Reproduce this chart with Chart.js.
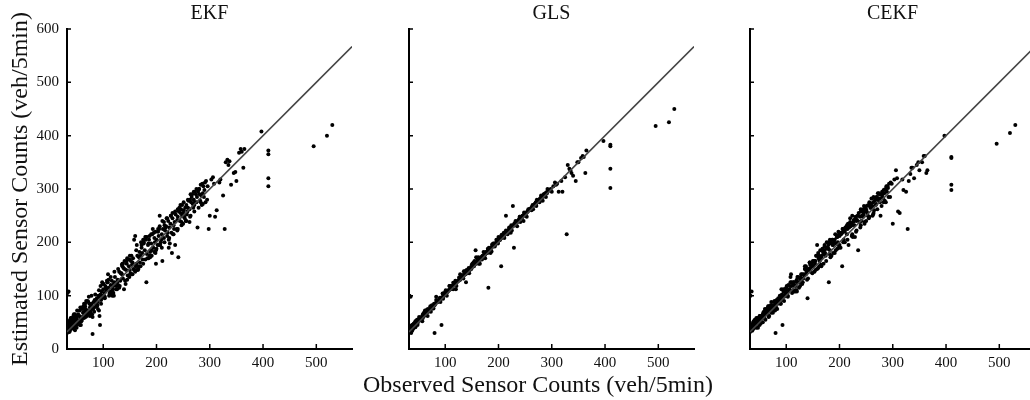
<!DOCTYPE html>
<html>
<head>
<meta charset="utf-8">
<script src="https://cdn.jsdelivr.net/npm/chart.js@4.4.1/dist/chart.umd.min.js"></script>
<style>
    body { margin: 0; width: 1030px; height: 400px; overflow: hidden; background: #fff; position: relative; }
    canvas { position: absolute; top: 0; }
    #xTitle { position: absolute; left: 0; width: 1076px; top: 372px; text-align: center;
              font: 24px "Liberation Serif", serif; line-height: 24px; color: #111; }
</style>
</head>
<body>
<canvas id="ekfChart" width="360" height="400" style="left:0px"></canvas>
<canvas id="glsChart" width="342" height="400" style="left:360px"></canvas>
<canvas id="cekfChart" width="343" height="400" style="left:700px"></canvas>
<div id="xTitle">Observed Sensor Counts (veh/5min)</div>

<script>
// observed counts are shared by the three panels
const observed = [
    32, 33, 34, 35, 36, 37, 38, 39, 40, 41,
    42, 43, 44, 45, 46, 47, 48, 49, 50, 52,
    53, 55, 56, 58, 60, 61, 63, 65, 66, 68,
    70, 72, 74, 75, 77, 79, 80, 82, 84, 86,
    88, 90, 92, 93, 95, 97, 99, 100, 102, 104,
    106, 108, 110, 112, 114, 116, 118, 120, 122, 125,
    127, 130, 132, 135, 137, 140, 142, 144, 146, 148,
    150, 152, 154, 156, 158, 160, 162, 164, 166, 168,
    170, 172, 174, 176, 178, 180, 182, 184, 186, 188,
    190, 192, 194, 196, 198, 200, 202, 204, 206, 208,
    210, 212, 214, 216, 218, 220, 222, 224, 226, 228,
    230, 232, 234, 236, 238, 240, 242, 244, 246, 248,
    250, 252, 254, 256, 258, 260, 262, 264, 266, 268,
    270, 272, 274, 276, 278, 280, 282, 284, 286, 288,
    290, 293, 296, 300, 303, 306, 310, 313, 318, 325,
    328, 330, 333, 337, 340, 345, 350, 355, 358, 363,
    397, 410, 410, 410, 410, 495, 520, 530, 33, 35,
    36, 38, 40, 44, 48, 52, 57, 62, 67, 73,
    78, 83, 91, 96, 103, 109, 115, 121, 128, 134,
    139, 145, 151, 157, 163, 169, 175, 181, 187, 193,
    199, 205, 211, 217, 223, 229, 235, 241, 247, 253,
    259, 265, 271, 277, 283, 289, 94, 80, 92, 140,
    34, 37, 42, 46, 51, 55, 59, 64, 69, 76,
    85, 98, 105, 113, 119, 126, 133, 138, 143, 149,
    155, 161, 167, 173, 179, 185, 191, 197, 203, 209,
    215, 221, 227, 233, 239, 245, 251, 257, 263, 269,
    275, 281, 287, 298, 308, 320, 335, 348, 360, 365,
    35, 39, 43, 47, 51, 54, 57, 60, 64, 67,
    71, 74, 78, 81, 85, 89, 92, 96, 99, 103,
    107, 111, 114, 117, 121, 124, 128, 131, 136, 141,
    145, 149, 153, 158, 162, 166, 171, 175, 179, 183,
    187, 191, 195, 199, 203, 207, 211, 215, 219, 223,
    227, 231, 235, 239, 243, 247, 251, 255, 259, 263,
    267, 271, 275, 279, 283, 287, 291, 295, 38, 45,
    58, 68, 88, 110, 130, 150, 170, 190, 210, 230,
    250, 270, 285, 120, 165, 185, 205, 225, 245, 262,
    41, 50, 63, 79, 98, 117, 136, 155, 176, 198,
    44, 56, 72, 90, 108, 126, 144, 162, 180, 196,
    214, 232, 248, 264, 280, 47, 66, 83, 101, 119,
    137, 153, 172, 188, 206, 224, 240, 256, 272, 292,
    60, 75, 95, 115, 135, 160, 182, 200, 220, 240
];

const ekfEstimated = [
    30, 45, 38, 42, 35, 48, 40, 52, 44, 50,
    55, 40, 58, 47, 52, 62, 45, 57, 60, 54,
    65, 52, 72, 60, 58, 75, 62, 70, 80, 64,
    72, 68, 85, 78, 82, 75, 28, 88, 92, 84,
    95, 88, 98, 62, 102, 108, 96, 112, 105, 118,
    110, 125, 115, 104, 120, 128, 112, 122, 135, 118,
    130, 145, 128, 140, 132, 150, 122, 160, 138, 155,
    148, 165, 158, 170, 205, 212, 160, 175, 155, 182,
    175, 190, 168, 200, 185, 210, 178, 195, 205, 182,
    198, 215, 190, 208, 220, 205, 195, 212, 250, 200,
    215, 225, 208, 222, 230, 212, 240, 228, 235, 218,
    245, 232, 238, 252, 225, 248, 258, 240, 262, 250,
    255, 248, 265, 270, 258, 278, 262, 290, 285, 272,
    280, 275, 290, 285, 295, 300, 278, 288, 310, 305,
    298, 315, 305, 250, 318, 322, 248, 260, 312, 288,
    225, 350, 355, 352, 308, 330, 315, 368, 375, 340,
    408, 372, 365, 320, 305, 380, 400, 420, 105, 108,
    32, 36, 48, 38, 55, 48, 58, 68, 75, 98,
    85, 78, 100, 92, 98, 140, 108, 125, 120, 142,
    112, 130, 142, 150, 195, 162, 205, 125, 175, 225,
    160, 195, 165, 228, 190, 180, 195, 172, 238, 245,
    265, 275, 270, 228, 275, 285, 45, 60, 72, 165,
    40, 33, 48, 42, 46, 62, 52, 58, 62, 70,
    90, 100, 115, 108, 118, 125, 142, 152, 148, 168,
    162, 155, 172, 180, 168, 198, 185, 200, 220, 205,
    232, 218, 250, 225, 242, 255, 260, 252, 280, 265,
    275, 290, 292, 225, 310, 318, 345, 332, 370, 375,
    52, 58, 45, 65, 72, 50, 78, 55, 85, 60,
    90, 65, 100, 75, 102, 82, 110, 85, 122, 95,
    128, 100, 135, 108, 145, 112, 150, 118, 160, 128,
    170, 135, 175, 148, 185, 150, 200, 160, 210, 170,
    212, 175, 218, 185, 225, 195, 240, 200, 245, 205,
    250, 215, 258, 222, 265, 232, 275, 240, 280, 248,
    290, 258, 300, 265, 308, 272, 312, 280, 55, 65,
    45, 90, 80, 130, 115, 175, 155, 215, 190, 255,
    235, 295, 270, 100, 148, 170, 225, 198, 270, 238,
    58, 40, 80, 65, 125, 100, 155, 140, 198, 180,
    62, 45, 88, 75, 125, 112, 165, 148, 205, 182,
    238, 215, 270, 250, 300, 35, 85, 70, 122, 105,
    160, 140, 195, 172, 230, 208, 262, 240, 295, 275,
    78, 62, 118, 102, 158, 145, 210, 188, 245, 225
];

const glsEstimated = [
    35, 42, 38, 40, 36, 44, 41, 45, 43, 46,
    47, 44, 50, 46, 49, 52, 48, 53, 55, 54,
    57, 55, 60, 58, 62, 63, 65, 68, 70, 70,
    74, 72, 78, 76, 80, 82, 30, 86, 88, 88,
    92, 90, 95, 45, 97, 100, 101, 104, 105, 108,
    110, 118, 112, 113, 118, 122, 120, 124, 126, 128,
    130, 135, 134, 138, 140, 143, 142, 150, 148, 152,
    153, 156, 155, 160, 172, 165, 164, 168, 168, 172,
    172, 176, 176, 180, 180, 185, 184, 188, 190, 192,
    193, 198, 196, 200, 201, 205, 204, 208, 208, 212,
    212, 216, 250, 220, 222, 225, 224, 228, 230, 232,
    234, 236, 237, 240, 242, 244, 246, 247, 250, 252,
    254, 256, 257, 260, 262, 263, 266, 268, 269, 272,
    274, 276, 277, 280, 282, 284, 286, 288, 290, 292,
    294, 296, 298, 295, 305, 312, 310, 295, 315, 322,
    215, 345, 338, 330, 325, 315, 350, 358, 362, 330,
    390, 383, 380, 338, 302, 418, 425, 450, 100, 98,
    30, 34, 38, 41, 45, 56, 52, 72, 62, 70,
    76, 98, 88, 94, 100, 112, 112, 118, 140, 132,
    125, 142, 160, 185, 160, 168, 170, 115, 183, 192,
    198, 155, 208, 215, 218, 190, 230, 238, 240, 248,
    262, 262, 268, 275, 278, 285, 96, 82, 96, 148,
    38, 40, 45, 48, 60, 57, 62, 66, 72, 78,
    90, 104, 108, 118, 122, 130, 138, 140, 146, 155,
    160, 165, 172, 176, 182, 188, 195, 200, 206, 212,
    218, 225, 268, 236, 244, 248, 255, 260, 266, 272,
    278, 285, 289, 300, 308, 295, 335, 350, 360, 372,
    40, 42, 48, 50, 53, 58, 60, 63, 66, 72,
    74, 78, 80, 85, 88, 92, 94, 98, 102, 106,
    110, 113, 118, 120, 124, 128, 130, 134, 140, 144,
    148, 150, 156, 160, 165, 168, 172, 178, 180, 186,
    190, 193, 198, 202, 205, 210, 213, 218, 220, 226,
    230, 233, 238, 240, 245, 250, 252, 258, 262, 265,
    270, 273, 278, 282, 285, 290, 292, 298, 45, 52,
    65, 75, 92, 118, 138, 158, 175, 198, 218, 236,
    255, 275, 290, 112, 160, 180, 212, 222, 250, 260,
    48, 56, 70, 85, 105, 122, 142, 165, 182, 205,
    52, 60, 80, 96, 118, 134, 152, 172, 188, 205,
    222, 240, 256, 270, 288, 55, 74, 92, 110, 128,
    146, 162, 182, 196, 214, 232, 248, 262, 280, 300,
    68, 82, 104, 124, 146, 170, 190, 210, 228, 248
];

const cekfEstimated = [
    32, 40, 36, 44, 38, 46, 42, 50, 40, 48,
    52, 45, 55, 50, 48, 58, 52, 55, 62, 50,
    62, 58, 65, 60, 68, 55, 70, 65, 75, 72,
    78, 68, 82, 76, 88, 80, 30, 92, 85, 90,
    95, 100, 92, 45, 108, 100, 110, 115, 105, 120,
    112, 135, 118, 110, 125, 120, 118, 130, 135, 125,
    135, 140, 132, 150, 140, 95, 148, 162, 145, 160,
    155, 165, 160, 175, 195, 180, 168, 185, 170, 188,
    178, 195, 175, 200, 190, 125, 185, 200, 205, 195,
    200, 215, 198, 210, 220, 212, 190, 218, 225, 205,
    220, 228, 215, 235, 228, 245, 235, 250, 238, 232,
    245, 240, 250, 255, 238, 262, 250, 248, 268, 258,
    262, 255, 270, 275, 265, 282, 268, 285, 278, 270,
    285, 280, 292, 275, 290, 285, 282, 292, 300, 305,
    305, 310, 312, 235, 318, 335, 258, 255, 318, 295,
    225, 315, 328, 340, 320, 345, 335, 350, 362, 330,
    400, 360, 358, 308, 298, 385, 405, 420, 100, 108,
    34, 38, 45, 40, 50, 48, 62, 65, 80, 75,
    82, 88, 112, 98, 100, 140, 118, 125, 130, 138,
    130, 152, 155, 175, 165, 182, 190, 178, 195, 185,
    215, 155, 225, 195, 232, 210, 185, 240, 238, 250,
    265, 260, 280, 250, 275, 295, 98, 84, 95, 150,
    42, 36, 48, 52, 55, 60, 58, 68, 72, 80,
    92, 105, 110, 122, 128, 132, 140, 145, 150, 155,
    165, 170, 175, 180, 188, 198, 205, 200, 215, 222,
    225, 230, 240, 242, 248, 252, 258, 268, 275, 272,
    282, 290, 298, 310, 320, 298, 340, 350, 362, 335,
    45, 52, 50, 58, 62, 50, 68, 65, 75, 60,
    82, 70, 90, 78, 95, 85, 102, 90, 112, 98,
    118, 105, 125, 110, 135, 115, 140, 125, 150, 132,
    158, 142, 165, 150, 175, 155, 185, 165, 195, 172,
    205, 180, 210, 190, 218, 200, 228, 205, 235, 212,
    242, 220, 250, 228, 258, 235, 268, 245, 272, 252,
    282, 262, 290, 268, 298, 275, 302, 285, 50, 55,
    70, 62, 100, 125, 122, 165, 160, 205, 200, 248,
    240, 285, 278, 108, 158, 175, 218, 210, 262, 250,
    55, 45, 75, 72, 112, 108, 150, 148, 188, 195,
    58, 50, 88, 85, 125, 118, 162, 155, 200, 188,
    232, 222, 265, 255, 295, 40, 80, 75, 118, 110,
    155, 145, 192, 180, 225, 215, 258, 248, 292, 285,
    75, 68, 112, 108, 155, 152, 205, 195, 238, 232
];

const xTickValues = [100, 200, 300, 400, 500];
const yTickValues = [0, 100, 200, 300, 400, 500, 600];
const xRange = [32, 567];
const yRange = [0, 600];

const serif = "'Liberation Serif', 'Times New Roman', serif";

// small tick marks pointing into the plot, as in the original figure
const innerTicks = {
    id: 'innerTicks',
    afterDatasetsDraw(chart) {
        const { ctx, chartArea, scales } = chart;
        ctx.save();
        ctx.strokeStyle = '#000';
        ctx.lineWidth = 1.5;
        ctx.beginPath();
        xTickValues.forEach(v => {
            const px = scales.x.getPixelForValue(v);
            ctx.moveTo(px, chartArea.bottom);
            ctx.lineTo(px, chartArea.bottom - 5);
        });
        yTickValues.forEach(v => {
            const py = scales.y.getPixelForValue(v);
            ctx.moveTo(chartArea.left, py);
            ctx.lineTo(chartArea.left + 4, py);
        });
        ctx.stroke();
        ctx.restore();
    }
};

function makePanel(canvasId, title, estimates, yWidth, showYLabels) {
    const points = observed.map((x, i) => ({ x: x, y: estimates[i] }));
    const diagonal = xRange.map(v => ({ x: v, y: v }));

    const ctx = document.getElementById(canvasId).getContext('2d');
    return new Chart(ctx, {
        type: 'scatter',
        data: {
            datasets: [{
                data: diagonal,
                showLine: true,
                borderColor: '#444',
                borderWidth: 1.5,
                pointRadius: 0
            }, {
                data: points,
                backgroundColor: '#000',
                borderWidth: 0,
                pointRadius: 2
            }]
        },
        options: {
            responsive: false,
            animation: false,
            layout: { padding: { left: 0, right: 8, top: 0, bottom: 0 } },
            plugins: {
                legend: { display: false },
                tooltip: { enabled: false }
            },
            scales: {
                x: {
                    type: 'linear',
                    min: xRange[0],
                    max: xRange[1],
                    afterBuildTicks: s => { s.ticks = xTickValues.map(v => ({ value: v })); },
                    afterFit: s => { s.height = 51; },
                    grid: { drawOnChartArea: false, drawTicks: false },
                    border: { color: '#000', width: 2 },
                    ticks: { color: '#111', padding: 5, maxRotation: 0, font: { family: serif, size: 15 } }
                },
                xTop: {
                    type: 'linear',
                    axis: 'x',
                    position: 'top',
                    min: xRange[0],
                    max: xRange[1],
                    afterFit: s => { s.height = 29; },
                    grid: { display: false },
                    border: { display: false },
                    ticks: { display: false },
                    title: {
                        display: true,
                        text: title,
                        color: '#111',
                        padding: { top: 2, bottom: 0 },
                        font: { family: serif, size: 20 }
                    }
                },
                y: {
                    type: 'linear',
                    min: yRange[0],
                    max: yRange[1],
                    afterBuildTicks: s => { s.ticks = yTickValues.map(v => ({ value: v })); },
                    afterFit: s => { s.width = yWidth; },
                    grid: { drawOnChartArea: false, drawTicks: false },
                    border: { color: '#000', width: 2 },
                    ticks: { display: showYLabels, color: '#111', padding: 8, font: { family: serif, size: 15 } },
                    title: {
                        display: showYLabels,
                        text: 'Estimated Sensor Counts (veh/5min)',
                        color: '#111',
                        padding: { top: 6, bottom: 0 },
                        font: { family: serif, size: 24 }
                    }
                }
            }
        },
        plugins: [innerTicks]
    });
}

window.onload = function () {
    makePanel('ekfChart', 'EKF', ekfEstimated, 67, true);
    makePanel('glsChart', 'GLS', glsEstimated, 49, false);
    makePanel('cekfChart', 'CEKF', cekfEstimated, 50, false);
};
</script>
</body>
</html>
